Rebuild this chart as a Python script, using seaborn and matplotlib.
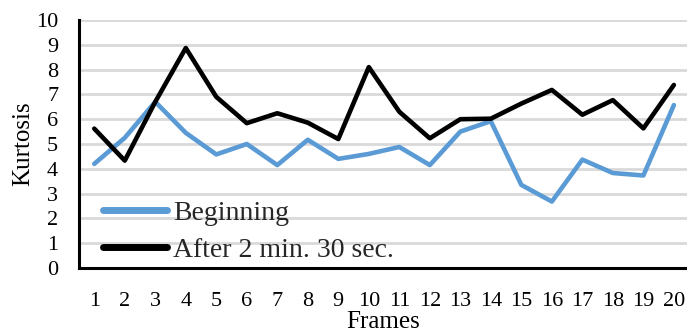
import matplotlib
matplotlib.use("Agg")
import matplotlib.pyplot as plt
import seaborn as sns
import pandas as pd

frames = list(range(1, 21))
beginning = [4.2, 5.25, 6.7, 5.45, 4.58, 5.0, 4.15, 5.17, 4.4, 4.6,
             4.88, 4.15, 5.5, 5.92, 3.35, 2.68, 4.37, 3.83, 3.73, 6.57]
after = [5.62, 4.33, 6.7, 8.87, 6.9, 5.84, 6.24, 5.86, 5.2, 8.1,
         6.3, 5.23, 6.0, 6.02, 6.63, 7.18, 6.18, 6.77, 5.63, 7.38]
series_names = ["Beginning", "After 2 min. 30 sec."]
yticks = list(range(0, 11))

df = pd.DataFrame({
    "Frames": frames * 2,
    "Kurtosis": beginning + after,
    "Series": [series_names[0]] * len(frames) + [series_names[1]] * len(frames),
})

sns.set_theme(style="white")
plt.rcParams["font.family"] = ["Liberation Serif", "DejaVu Serif"]

fig = plt.figure(figsize=(6.87, 3.33), dpi=100)
ax = fig.add_axes([79 / 687, 65 / 333, 608 / 687, 248 / 333])

sns.lineplot(data=df, x="Frames", y="Kurtosis", hue="Series",
             palette=["#5B9BD5", "#000000"], linewidth=3.3, ax=ax,
             legend=True)

ax.set_xlim(0.5, 20.43)
ax.set_ylim(0, 10)
ax.set_yticks(yticks)
ax.set_xticks(frames)
ax.yaxis.grid(True, color="#D9D9D9", linewidth=2)
ax.set_axisbelow(True)
for s in ["top", "right"]:
    ax.spines[s].set_visible(False)
for s in ["left", "bottom"]:
    ax.spines[s].set_color("black")
    ax.spines[s].set_linewidth(2.2)
ax.tick_params(axis="both", length=0, labelsize=16, colors="black")
ax.tick_params(axis="x", pad=17)
ax.tick_params(axis="y", pad=15)
ax.set_xlabel("Frames", fontsize=18, color="black", labelpad=0)
ax.set_ylabel("Kurtosis", fontsize=18, color="black", labelpad=1)

leg = ax.legend(loc="lower left", bbox_to_anchor=(0.04, 0.022), frameon=False,
                fontsize=20, handlelength=2.3, handletextpad=0.2,
                borderpad=0, borderaxespad=0, labelspacing=0.4)
for h in leg.get_lines():
    h.set_linewidth(5)
    h.set_solid_capstyle("round")

fig.savefig("out.png", dpi=100)
